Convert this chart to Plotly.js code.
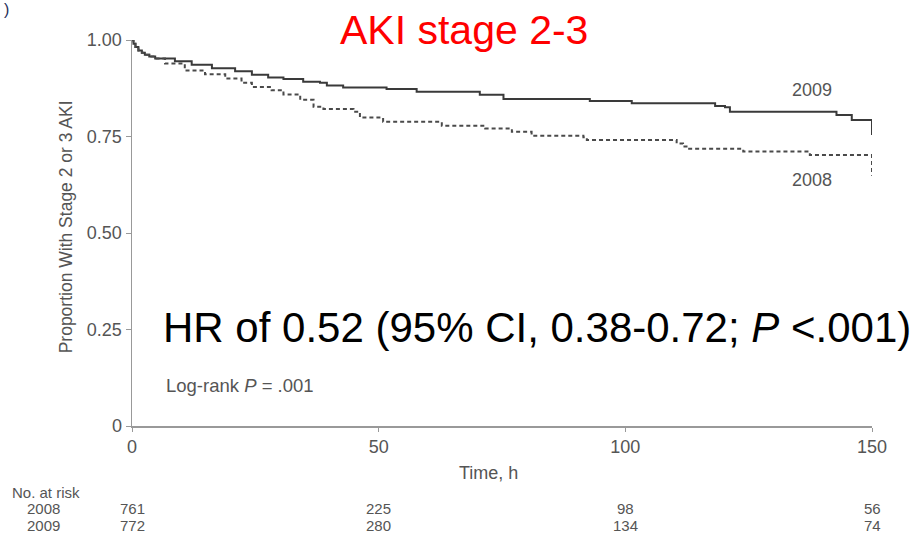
<!DOCTYPE html>
<html>
<head>
<meta charset="utf-8">
<script src="https://cdn.plot.ly/plotly-3.0.1.min.js"></script>
<style>html,body{margin:0;padding:0;background:#fff;}#chart{width:921px;height:545px;}</style>
</head>
<body>
<div id="chart"></div>
<script>
// Kaplan-Meier step data
const time2009 = [0, 0.3, 0.7, 1.3, 2.0, 2.6, 3.5, 4.7, 8.7, 12.1, 16.2, 20.9, 24.3, 27.6, 30.7, 34.7, 38.1, 39.5, 42.8, 51.6, 57.7, 70.5, 75.3, 92.8, 101.3, 118.2, 120.2, 121.2, 142.8, 145.9, 150, 150];
const surv2009 = [1.0, 0.99, 0.982, 0.973, 0.967, 0.962, 0.957, 0.952, 0.945, 0.936, 0.927, 0.919, 0.910, 0.903, 0.899, 0.892, 0.889, 0.882, 0.877, 0.873, 0.866, 0.858, 0.847, 0.842, 0.836, 0.829, 0.826, 0.814, 0.806, 0.793, 0.793, 0.754];
const time2008 = [0, 0.3, 0.7, 1.3, 2.0, 2.6, 3.5, 4.7, 6.7, 10.7, 14.8, 18.9, 22.2, 24.3, 28.3, 30.7, 34.1, 36.8, 38.8, 44.9, 46.2, 50.9, 62.8, 71.6, 77.0, 81.0, 91.5, 92.2, 110.4, 111.7, 112.4, 123.9, 137.4, 150, 150];
const surv2008 = [1.0, 0.99, 0.982, 0.973, 0.967, 0.962, 0.957, 0.952, 0.939, 0.921, 0.911, 0.900, 0.889, 0.878, 0.870, 0.859, 0.845, 0.827, 0.821, 0.814, 0.799, 0.788, 0.778, 0.771, 0.762, 0.752, 0.748, 0.741, 0.732, 0.724, 0.718, 0.711, 0.702, 0.702, 0.648];

const xTicks = [0, 50, 100, 150];
const yTicks = [0, 0.25, 0.5, 0.75, 1.0];
const yTickLabels = ["0", "0.25", "0.50", "0.75", "1.00"];

const riskTimes = [0, 50, 100, 150];
const risk2008 = [761, 225, 98, 56];
const risk2009 = [772, 280, 134, 74];

const gray = "#555";
const font = "Liberation Sans, Arial, sans-serif";
const fs = 18;
const fsTable = 15;

const traces = [
  {x: time2009, y: surv2009, mode: "lines", line: {shape: "hv", color: "#3a3a3a", width: 2}, name: "2009", hoverinfo: "skip"},
  {x: time2008, y: surv2008, mode: "lines", line: {shape: "hv", color: "#4a4a4a", width: 2, dash: "4px,3px"}, name: "2008", hoverinfo: "skip"}
];

const ann = [];
function addRow(label, vals, yPaper) {
  ann.push({xref: "paper", yref: "paper", x: -0.119, y: yPaper, xanchor: "center", yanchor: "middle", text: label, showarrow: false, borderpad: 0, font: {family: font, size: fsTable, color: gray}});
  vals.forEach((v, i) => {
    ann.push({xref: "x", yref: "paper", x: riskTimes[i], y: yPaper, xanchor: "center", yanchor: "middle", text: String(v), showarrow: false, borderpad: 0, font: {family: font, size: fsTable, color: gray}});
  });
}
ann.push({xref: "paper", yref: "paper", x: -0.164, y: -0.171, xanchor: "left", yanchor: "middle", text: "No. at risk", showarrow: false, borderpad: 0, font: {family: font, size: fsTable, color: gray}});
addRow("2008", risk2008, -0.215);
addRow("2009", risk2009, -0.259);

ann.push({xref: "paper", yref: "paper", x: 0.482, y: -0.122, xanchor: "center", yanchor: "middle", text: "Time, h", showarrow: false, font: {family: font, size: fs, color: gray}});
ann.push({xref: "paper", yref: "paper", x: -0.089, y: 0.515, xanchor: "center", yanchor: "middle", textangle: -90, text: "Proportion With Stage 2 or 3 AKI", showarrow: false, font: {family: font, size: 17.5, color: gray}});
ann.push({xref: "x", yref: "y", x: 137.8, y: 0.870, xanchor: "center", yanchor: "middle", text: "2009", showarrow: false, font: {family: font, size: fs, color: gray}});
ann.push({xref: "x", yref: "y", x: 137.8, y: 0.637, xanchor: "center", yanchor: "middle", text: "2008", showarrow: false, font: {family: font, size: fs, color: gray}});
ann.push({xref: "x", yref: "y", x: 6.5, y: 0.106, xanchor: "left", yanchor: "middle", text: "Log-rank <i>P</i> = .001", showarrow: false, font: {family: font, size: 18.5, color: gray}});
ann.push({xref: "x", yref: "y", x: 5.8, y: 0.256, xanchor: "left", yanchor: "middle", text: "HR of 0.52 (95% CI, 0.38-0.72; <i>P</i> <.001)", showarrow: false, font: {family: font, size: 42, color: "#000"}});
ann.push({xref: "paper", yref: "paper", x: 0.449, y: 1.026, xanchor: "center", yanchor: "middle", text: "AKI stage 2-3", showarrow: false, font: {family: font, size: 41, color: "#ff0000"}});
ann.push({xref: "paper", yref: "paper", x: -0.176, y: 1.08, xanchor: "left", yanchor: "middle", text: ")", showarrow: false, font: {family: font, size: 16, color: "#1f2f5a"}});

const layout = {
  width: 921, height: 545,
  margin: {l: 132, r: 49, t: 40, b: 119},
  paper_bgcolor: "#fff", plot_bgcolor: "#fff",
  showlegend: false,
  xaxis: {range: [0, 150], tickvals: xTicks, ticktext: xTicks.map(String), ticks: "outside", ticklen: 4, tickcolor: "#999", showline: true, linecolor: "#999", linewidth: 1.5, showgrid: false, zeroline: false, tickfont: {family: font, size: fs, color: gray}, fixedrange: true},
  yaxis: {range: [0, 1], tickvals: yTicks, ticktext: yTickLabels, ticks: "outside", ticklen: 5, tickcolor: "#999", showline: true, linecolor: "#999", linewidth: 1.5, showgrid: false, zeroline: false, tickfont: {family: font, size: fs, color: gray}, fixedrange: true},
  annotations: ann
};

Plotly.newPlot("chart", traces, layout, {staticPlot: true, displayModeBar: false});
</script>
</body>
</html>
